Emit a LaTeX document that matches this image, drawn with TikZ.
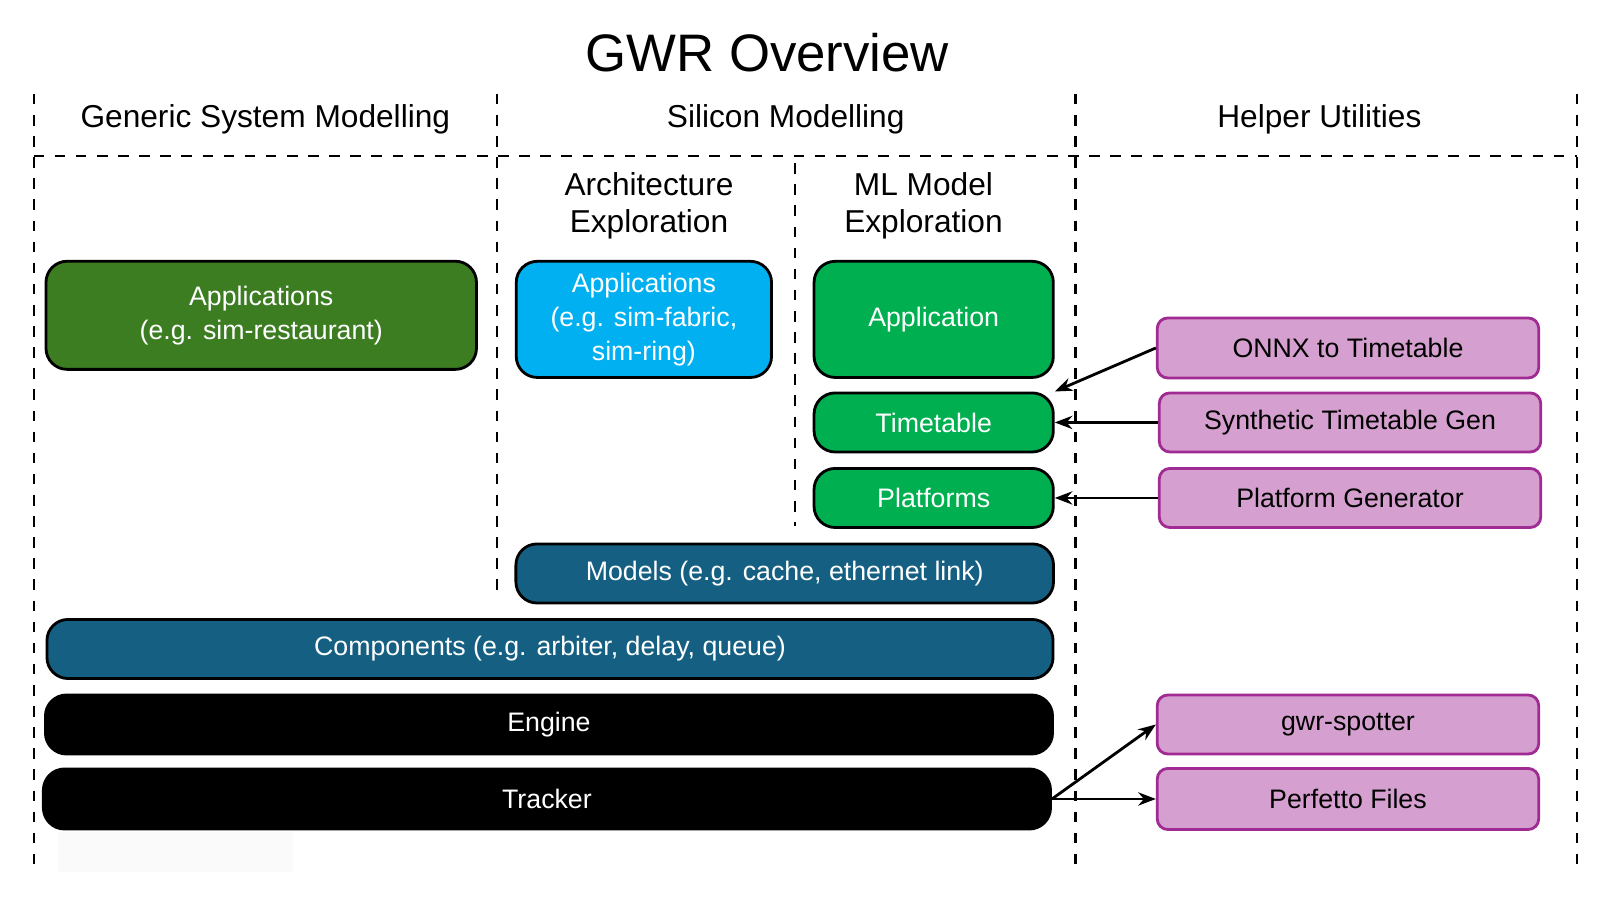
\documentclass[tikz,border=0pt]{standalone}
\usepackage{fontspec}
\setmainfont{Liberation Sans}
\usetikzlibrary{arrows.meta}
\definecolor{appdark}{HTML}{3C7D22}
\definecolor{appblue}{HTML}{00B0F0}
\definecolor{appgreen}{HTML}{00B050}
\definecolor{teal}{HTML}{156082}
\definecolor{pinkfill}{HTML}{D5A0CF}
\definecolor{pinkline}{HTML}{A02B93}
\tikzset{
  box/.style={draw=black, rounded corners=6pt, line width=0.8pt, text=white, align=center, inner sep=0pt, font=\fontsize{7.6}{9.6}\selectfont},
  helper/.style={draw=pinkline, fill=pinkfill, rounded corners=3pt, line width=0.8pt, inner sep=0pt, font=\fontsize{7.6}{9}\selectfont},
  sep/.style={dashed, line width=0.6pt},
  head/.style={align=center, font=\fontsize{9}{10.5}\selectfont},
  link/.style={-{Stealth[length=5pt]}, line width=0.8pt}
}
\begin{document}
\begin{tikzpicture}[x=0.0102cm,y=-0.0102cm]
\useasboundingbox (0,0) rectangle (1568,882);
\fill[gray!4] (57,815) rectangle (287,855);
% title and columns
\node[font=\fontsize{15}{17}\selectfont] (title) at (752,52) {GWR Overview};
\draw[sep] (33,92) -- (33,855);
\draw[sep] (487,92) -- (487,585);
\draw[sep] (779,160) -- (779,515);
\draw[sep] (1054,92) -- (1054,855);
\draw[sep] (1545,92) -- (1545,855);
\draw[sep] (33,153) -- (1545,153);
\node[head] (generic) at (260,117) {Generic System Modelling};
\node[head] (silicon) at (770,117) {Silicon Modelling};
\node[head] (helpers) at (1293,117) {Helper Utilities};
\node[head] (arch) at (636,202) {Architecture\\Exploration};
\node[head] (mlmodel) at (905,202) {ML Model\\Exploration};
% GWR stack
\node[box, fill=appdark, minimum width=4.3cm, minimum height=1.08cm] (GenApp) at (256,309) {Applications\\(e.g. sim-restaurant)};
\node[box, fill=appblue, minimum width=2.55cm, minimum height=1.16cm] (ArchApp) at (631,313) {Applications\\(e.g. sim-fabric,\\sim-ring)};
\node[box, fill=appgreen, minimum width=2.39cm, minimum height=1.16cm] (MLApp) at (915,313) {Application};
\node[box, fill=appgreen, minimum width=2.39cm, minimum height=0.59cm] (Timetable) at (915,414) {Timetable};
\node[box, fill=appgreen, minimum width=2.39cm, minimum height=0.59cm] (Platforms) at (915,488) {Platforms};
\node[box, fill=teal, minimum width=5.37cm, minimum height=0.59cm] (Models) at (769,562) {Models (e.g. cache, ethernet link)};
\node[box, fill=teal, minimum width=10.05cm, minimum height=0.59cm] (Components) at (539,636) {Components (e.g. arbiter, delay, queue)};
\node[box, fill=black, minimum width=10.06cm, minimum height=0.59cm] (Engine) at (538,710) {Engine};
\node[box, fill=black, minimum width=10.06cm, minimum height=0.6cm] (Tracker) at (536,783) {Tracker};
% helper utilities
\node[helper, minimum width=3.81cm, minimum height=0.6cm] (Onnx) at (1321,341) {ONNX to Timetable};
\node[helper, minimum width=3.81cm, minimum height=0.59cm] (SynthGen) at (1323,414) {Synthetic Timetable Gen};
\node[helper, minimum width=3.81cm, minimum height=0.59cm] (PlatGen) at (1323,488) {Platform Generator};
\node[helper, minimum width=3.81cm, minimum height=0.59cm] (Spotter) at (1321,710) {gwr-spotter};
\node[helper, minimum width=3.81cm, minimum height=0.61cm] (Perfetto) at (1321,783) {Perfetto Files};

\draw[link] (Onnx.west) -- (Timetable.north east);
\draw[link] (SynthGen.west) -- (Timetable.east);
\draw[link] (PlatGen.west) -- (Platforms.east);
\draw[link] (Tracker.east) -- (Spotter.west);
\draw[link] (Tracker.east) -- (Perfetto.west);
\end{tikzpicture}
\end{document}
